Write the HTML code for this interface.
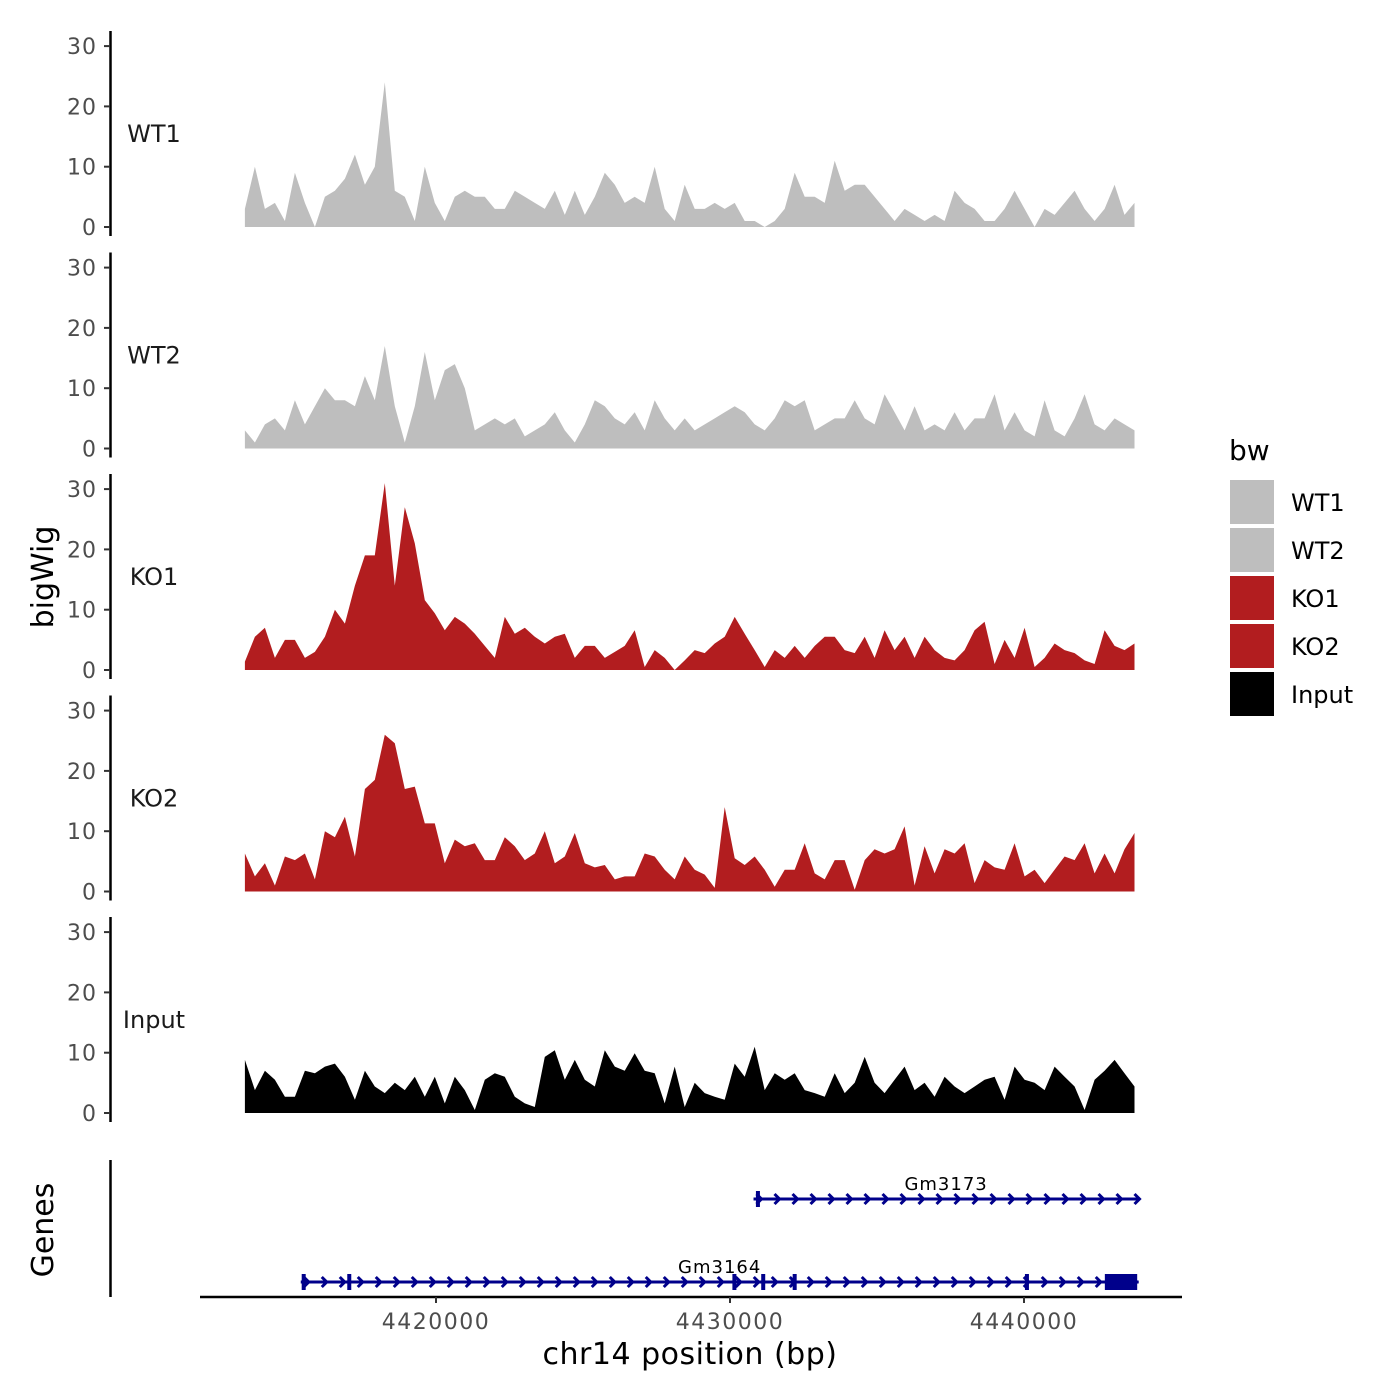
<!DOCTYPE html>
<html><head><meta charset="utf-8"><style>
html,body{margin:0;padding:0;background:#fff;}
svg{display:block;font-family:"DejaVu Sans","Liberation Sans",sans-serif;}
</style></head><body>
<svg id="chart" width="1400" height="1400" viewBox="0 0 1400 1400" xmlns="http://www.w3.org/2000/svg">
<rect width="1400" height="1400" fill="#fff"/>
<g id="tracks"></g>
<g id="genes"></g>
<g id="axes"></g>
<g id="legend"></g>
<text x="0" y="0" transform="translate(53,577) rotate(-90)" text-anchor="middle" font-size="30" fill="#000">bigWig</text>
<text x="0" y="0" transform="translate(53,1230) rotate(-90)" text-anchor="middle" font-size="30" fill="#000">Genes</text>
<text x="690" y="1364" text-anchor="middle" font-size="30" letter-spacing="0.5" fill="#000">chr14 position (bp)</text>
</svg>
<script>
// ---- data ----
const trackNames = ["WT1","WT2","KO1","KO2","Input"];
const trackColors = ["#bebebe","#bebebe","#b21d1f","#b21d1f","#000000"];
const binStart = 4413500;
const binSize = 340;
const wt1 = [3,10,3,4,1,9,4,0,5,6,8,12,7,10,24,6,5,1,10,4,1,5,6,5,5,3,3,6,5,4,3,6,2,6,2,5,9,7,4,5,4,10,3,1,7,3,3,4,3,4,1,1,0,1,3,9,5,5,4,11,6,7,7,5,3,1,3,2,1,2,1,6,4,3,1,1,3,6,3,0,3,2,4,6,3,1,3,7,2,4];
const wt2 = [3,1,4,5,3,8,4,7,10,8,8,7,12,8,17,7,1,7,16,8,13,14,10,3,4,5,4,5,2,3,4,6,3,1,4,8,7,5,4,6,3,8,5,3,5,3,4,5,6,7,6,4,3,5,8,7,8,3,4,5,5,8,5,4,9,6,3,7,3,4,3,6,3,5,5,9,3,6,3,2,8,3,2,5,9,4,3,5,4,3];
const ko1 = [1.4,5.5,7,2,5,5,2,3,5.5,10,7.7,14,19,19,31,14,27,21,11.6,9.4,6.6,8.8,7.7,6,4,2,8.8,6,7,5.5,4.4,5.5,6,2,4,4,2,3,4,6.6,0.5,3.3,2,0,1.6,3.3,2.8,4.4,5.5,8.8,6,3.3,0.5,3.3,2,4,2,4,5.5,5.5,3.3,2.8,5.5,2,6.6,3.3,5.5,2,5.5,3.3,2,1.6,3.3,6.6,8,1,5,2,7,0.5,2,4.4,3.3,2.8,1.6,1,6.6,4,3.3,4.4];
const ko2 = [6.3,2.5,4.7,1,5.8,5.2,6.3,2,10,9,12.4,5.8,17,18.5,26,24.6,17,17.4,11.3,11.3,4.7,8.6,7.5,8,5.2,5.2,9,7.5,5.2,6.3,10,4.7,5.8,9.7,4.7,4,4.4,2,2.5,2.5,6.3,5.8,3.6,2,5.8,3.6,2.8,0.6,14,5.5,4.4,5.8,3.6,0.8,3.6,3.6,8,3,2,5.2,5.2,0.3,5.2,7,6.3,7,10.8,1,7.5,3,7,6.3,8,1.4,5.2,4,3.6,8,2.5,3.6,1.4,3.6,5.8,5.2,8,3,6.3,3,7,9.7];
const inputTrack = [8.8,3.8,7,5.5,2.7,2.7,7,6.6,7.7,8.2,6,2.2,7,4.4,3.3,5,3.8,6,2.7,6,1.6,6,3.8,0.5,5.5,6.6,6,2.7,1.6,1,9.3,10.4,5.5,8.8,5.5,4.4,10.4,7.7,7,9.9,7,6.6,1.6,7.7,1,5,3.3,2.7,2.2,8.2,6,11,3.8,6.6,5.5,6.6,3.8,3.3,2.7,6.6,3.3,5,9.3,5,3.3,5.5,7.7,3.8,5,2.7,6,4.4,3.3,4.4,5.5,6,2.2,7.7,5.5,5,3.8,7.7,6,4.4,0.5,5.5,7,8.8,6.6,4.4];
const yTicks = [0,10,20,30];
const xTicks = [4420000,4430000,4440000];
const geneNames = ["Gm3173","Gm3164"];
const geneStarts = [4430800,4415400];
const geneEnds = [4443900,4443900];
const geneExons = [[4430950],[4415500,4417050,4430150,4431130,4432200,4440100]];
const geneThick = [[],[4442750,4443850]];
const seriesList = [wt1,wt2,ko1,ko2,inputTrack];

// ---- scales ----
const NS="http://www.w3.org/2000/svg";
const xPx = bp => 436 + (bp-4420000)*294/10000;
const panelBase = [227,448.5,670,891.5,1113];
const yPx = (p,v) => panelBase[p] - v*6.03;
function mk(tag, attrs, parent){const e=document.createElementNS(NS,tag);for(const k in attrs)e.setAttribute(k,attrs[k]);parent.appendChild(e);return e;}

const tracksG=document.getElementById('tracks');
const axesG=document.getElementById('axes');
seriesList.forEach((vals,p)=>{
  let d=`M${xPx(binStart).toFixed(1)},${panelBase[p]}`;
  vals.forEach((v,i)=>{d+=` L${xPx(binStart+i*binSize).toFixed(1)},${yPx(p,v).toFixed(1)}`;});
  d+=` L${xPx(binStart+(vals.length-1)*binSize).toFixed(1)},${panelBase[p]} Z`;
  const path=mk('path',{d:d,fill:trackColors[p]},tracksG);
  
  
  const ax=mk('line',{x1:110.5,x2:110.5,y1:panelBase[p]+9,y2:panelBase[p]-196,stroke:'#000','stroke-width':2.5},axesG);
  
  
  yTicks.forEach(t=>{
    const y=yPx(p,t);
    const tk=mk('line',{x1:104,x2:110,y1:y,y2:y,stroke:'#333','stroke-width':2},axesG);
    
    
    const tl=mk('text',{x:97,y:y+8,'text-anchor':'end','font-size':22,'letter-spacing':1,fill:'#4d4d4d'},axesG);
    tl.textContent=t;
    
    
  });
  const lab=mk('text',{x:154,y:panelBase[p]-85,'text-anchor':'middle','font-size':24,fill:'#1a1a1a'},axesG);
  lab.textContent=trackNames[p];
  
  
});
const gax=mk('line',{x1:110.5,x2:110.5,y1:1160,y2:1297,stroke:'#000','stroke-width':2.5},axesG);


const xax=mk('line',{x1:200,x2:1182,y1:1297,y2:1297,stroke:'#000','stroke-width':2.5},axesG);


xTicks.forEach(t=>{
  const x=xPx(t);
  const tk=mk('line',{x1:x,x2:x,y1:1297,y2:1303,stroke:'#333','stroke-width':2},axesG);
  
  
  const tl=mk('text',{x:x,y:1329,'text-anchor':'middle','font-size':22,'letter-spacing':1.5,fill:'#4d4d4d'},axesG);
  tl.textContent=t;
  
  
});
const genesG=document.getElementById('genes');
const geneY=[1199,1282];
geneNames.forEach((g,i)=>{
  const gg=mk('g',{},genesG);
  
  
  const x1=xPx(geneStarts[i]), x2=xPx(geneEnds[i]), y=geneY[i];
  mk('line',{x1:x1,x2:x2,y1:y,y2:y,stroke:'#00008b','stroke-width':3},gg);
  for(let x=x1+6;x<=x2;x+=18){
    mk('polyline',{points:`${x-3},${y-5} ${x+2},${y} ${x-3},${y+5}`,fill:'none',stroke:'#00008b','stroke-width':3},gg);
  }
  geneExons[i].forEach(b=>{const xe=xPx(b);mk('rect',{x:xe-2,y:y-8,width:4,height:16,fill:'#00008b'},gg);});
  if(geneThick[i].length){const a=xPx(geneThick[i][0]),b=xPx(geneThick[i][1]);mk('rect',{x:a,y:y-8,width:b-a,height:16,fill:'#00008b'},gg);}
  const t=mk('text',{x:(x1+x2)/2,y:y-9,'text-anchor':'middle','font-size':18,'letter-spacing':1,fill:'#000'},gg);
  t.textContent=g;
  
  
});
const lg=document.getElementById('legend');
const lt=mk('text',{x:1229,y:460,'font-size':28,fill:'#000'},lg);
lt.textContent='bw';


trackNames.forEach((n,i)=>{
  const y=480+i*48;
  const k=mk('rect',{x:1230,y:y,width:44,height:44,fill:trackColors[i]},lg);
  
  
  const t=mk('text',{x:1291,y:y+31,'font-size':24,fill:'#000'},lg);
  t.textContent=n;
  
  
});
</script>
</body></html>
